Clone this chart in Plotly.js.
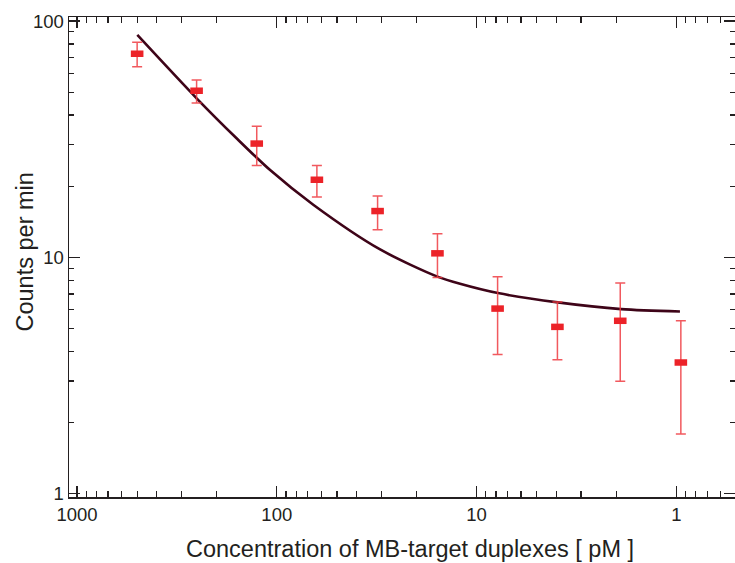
<!DOCTYPE html>
<html>
<head>
<meta charset="utf-8">
<script src="https://cdn.plot.ly/plotly-3.0.1.min.js"></script>
<style>html,body{margin:0;padding:0;background:#fff;}#chart{width:735px;height:563px;}</style>
</head>
<body>
<div id="chart"></div>
<script>
// Measured data (concentration in pM, counts per min)
const concentration = [500, 252, 126, 63, 31.3, 15.7, 7.85, 3.94, 1.91, 0.95];
const counts        = [72.7, 50.7, 30.3, 21.3, 15.7, 10.4, 6.07, 5.08, 5.39, 3.59];
const countsHigh    = [81.3, 56.3, 35.9, 24.5, 18.2, 12.6, 8.28, 6.48, 7.78, 5.39];
const countsLow     = [64.1, 45.0, 24.5, 18.0, 13.1, 8.22, 3.88, 3.69, 2.99, 1.79];

// Fitted curve
const fitConc   = [499, 252, 159, 108, 65.7, 30.4, 15.7, 12.1, 7.82, 3.92, 1.89, 0.96];
const fitCounts = [87.3, 47.1, 31.9, 23.4, 16.7, 10.8, 8.29, 7.73, 7.06, 6.45, 6.04, 5.90];

// Tick labels and titles
const xTickVals = [1000, 100, 10, 1];
const xTickText = ['1000', '100', '10', '1'];
const yTickVals = [1, 10, 100];
const yTickText = ['1', '10', '100'];
const xTitle = 'Concentration of MB-target duplexes [ pM ]';
const yTitle = 'Counts per min';

const minorDigits = [2, 3, 4, 5, 6, 7, 8, 9];
const xMinor = [];
[0.1, 1, 10, 100, 1000].forEach(d => minorDigits.forEach(m => xMinor.push(m * d)));
const yMinor = [];
[1, 10].forEach(d => minorDigits.forEach(m => yMinor.push(m * d)));

const errPlus = countsHigh.map((h, i) => h - counts[i]);
const errMinus = counts.map((c, i) => c - countsLow[i]);

const traces = [
  {
    x: fitConc, y: fitCounts, type: 'scatter', mode: 'lines',
    line: {color: 'rgb(62,4,24)', width: 2.6, shape: 'spline', smoothing: 0.8},
    hoverinfo: 'skip', showlegend: false
  },
  {
    x: concentration, y: counts, type: 'scatter', mode: 'markers',
    marker: {symbol: 'line-ew', size: 9, color: 'rgb(236,34,40)',
             line: {color: 'rgb(236,34,40)', width: 6.5}},
    error_y: {type: 'data', symmetric: false, array: errPlus, arrayminus: errMinus,
              color: 'rgba(238,60,66,0.85)', thickness: 1.5, width: 5},
    showlegend: false
  }
];

const fam = '"Liberation Sans", Arial, Helvetica, sans-serif';
const axisFont = {family: fam, size: 18.5, color: '#231f20'};
const titleFont = {family: fam, size: 23.5, color: '#231f20'};

const layout = {
  width: 735, height: 563,
  margin: {l: 69, r: 0, t: 17, b: 66, pad: 0},
  paper_bgcolor: '#fff', plot_bgcolor: '#fff',
  showlegend: false,
  xaxis: {
    type: 'log', range: [Math.log10(1096.5), Math.log10(0.509)],
    tickmode: 'array', tickvals: xTickVals, ticktext: xTickText,
    ticks: 'inside', ticklen: 11, tickwidth: 1.2, tickcolor: '#231f20',
    showline: true, linecolor: '#231f20', linewidth: 1.5, mirror: 'ticks',
    showgrid: false, zeroline: false,
    tickfont: axisFont,
    minor: {tickmode: 'array', tickvals: xMinor, ticks: 'inside', ticklen: 6, tickwidth: 1.2, tickcolor: '#231f20', showgrid: false}
  },
  yaxis: {
    type: 'log', range: [-0.014, 2.017],
    tickmode: 'array', tickvals: yTickVals, ticktext: yTickText,
    ticks: 'inside', ticklen: 11, tickwidth: 1.2, tickcolor: '#231f20',
    showline: true, linecolor: '#231f20', linewidth: 1.5, mirror: 'ticks',
    showgrid: false, zeroline: false,
    tickfont: axisFont,
    minor: {tickmode: 'array', tickvals: yMinor, ticks: 'inside', ticklen: 5, tickwidth: 1.2, tickcolor: '#231f20', showgrid: false}
  },
  annotations: [
    {text: xTitle, xref: 'paper', yref: 'paper', x: (410 - 69) / 666, y: -(534 - 497) / 480,
     xanchor: 'center', yanchor: 'top', showarrow: false, font: titleFont},
    {text: yTitle, xref: 'paper', yref: 'paper', x: (24 - 69) / 666, y: (497 - 252.5) / 480,
     xanchor: 'center', yanchor: 'middle', textangle: -90, showarrow: false, font: titleFont}
  ]
};

Plotly.newPlot('chart', traces, layout, {displayModeBar: false, staticPlot: true});
</script>
</body>
</html>
